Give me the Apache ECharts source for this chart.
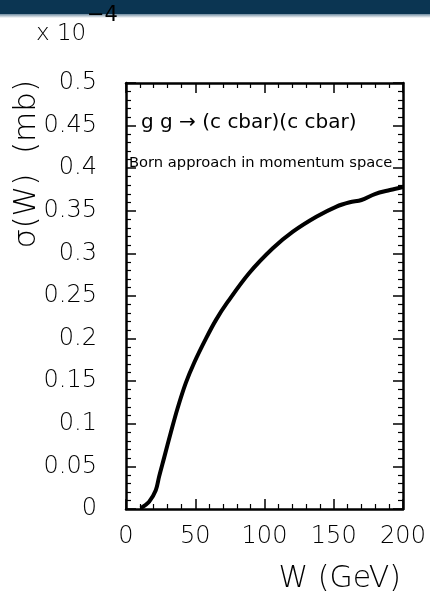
<!DOCTYPE html>
<html>
<head>
<meta charset="utf-8">
<script src="https://cdn.jsdelivr.net/npm/echarts@6/dist/echarts.min.js"></script>
<style>
  html, body { margin: 0; padding: 0; background: #fff; }
  #chart-ctn { width: 430px; height: 600px; }
</style>
</head>
<body>
<div id="chart-ctn"></div>
<script>
// W (GeV) and sigma(W) in units of 1e-4 mb
var wValues = [10.6, 16.7, 21.5, 23.9, 27.5, 32.4, 37.2, 43.2, 49.3, 57.7, 65, 73.4, 89, 106, 120.5, 137.4, 152, 161.6, 170, 179.7, 190.6, 200];
var sigmaValues = [0.001, 0.0086, 0.022, 0.038, 0.060, 0.090, 0.118, 0.148, 0.172, 0.200, 0.222, 0.243, 0.277, 0.306, 0.3255, 0.343, 0.355, 0.360, 0.3627, 0.3697, 0.3744, 0.378];

var xTicks = [0, 50, 100, 150, 200];
var yTicks = [0, 0.05, 0.1, 0.15, 0.2, 0.25, 0.3, 0.35, 0.4, 0.45, 0.5];

var curve = [];
for (var i = 0; i < wValues.length; i++) {
  curve.push([wValues[i], sigmaValues[i]]);
}

var labelFont = 'DejaVu Sans';
var lineCol = '#000';

function frameAxis(pos, show) {
  return {
    type: 'value',
    position: pos,
    axisLine: { show: true, onZero: false, lineStyle: { color: lineCol, width: 2.5 } },
    axisTick: { show: true, inside: true, length: 10, lineStyle: { color: lineCol, width: 1.5 } },
    minorTick: { show: true, splitNumber: 5, length: 5, lineStyle: { color: lineCol, width: 1.2 } },
    splitLine: { show: false },
    axisLabel: {
      show: show,
      fontFamily: labelFont,
      fontSize: 24,
      fontWeight: 'lighter',
      color: '#000'
    }
  };
}

var myChart = echarts.init(document.getElementById('chart-ctn'));

var xBottom = frameAxis('bottom', true);
xBottom.min = xTicks[0];
xBottom.max = xTicks[xTicks.length - 1];
xBottom.interval = 50;
xBottom.axisLabel.margin = 16;
var xTop = frameAxis('top', false);
xTop.min = xBottom.min; xTop.max = xBottom.max; xTop.interval = 50;

var yLeft = frameAxis('left', true);
yLeft.min = yTicks[0];
yLeft.max = yTicks[yTicks.length - 1];
yLeft.interval = 0.05;
yLeft.axisLabel.margin = 29;
var yRight = frameAxis('right', false);
yRight.min = yLeft.min; yRight.max = yLeft.max; yRight.interval = 0.05;

var option = {
  backgroundColor: '#fff',
  animation: false,
  grid: { left: 126, top: 83, width: 277, height: 426 },
  xAxis: [xBottom, xTop],
  yAxis: [yLeft, yRight],
  series: [
    {
      type: 'line',
      xAxisIndex: 0,
      yAxisIndex: 0,
      data: curve,
      smooth: 0.35,
      showSymbol: false,
      lineStyle: { color: '#000', width: 4 }
    }
  ],
  graphic: [
    {
      type: 'rect',
      z: 1,
      shape: { x: 0, y: 0, width: 430, height: 14 },
      style: { fill: '#0b3552' }
    },
    {
      type: 'rect',
      z: 1,
      shape: { x: 0, y: 14, width: 430, height: 4 },
      style: {
        fill: new echarts.graphic.LinearGradient(0, 0, 0, 1, [
          { offset: 0, color: '#6f8ba0' },
          { offset: 1, color: '#ffffff' }
        ])
      }
    },
    {
      type: 'text',
      z: 5,
      x: 36,
      y: 34,
      style: {
        text: 'x 10',
        fontFamily: labelFont,
        fontSize: 23,
        fontWeight: 'lighter',
        fill: '#000',
        align: 'left',
        verticalAlign: 'middle'
      }
    },
    {
      type: 'text',
      z: 5,
      x: 87,
      y: 16,
      style: {
        text: '\u22124',
        fontFamily: labelFont,
        fontSize: 21,
        fill: '#000',
        align: 'left',
        verticalAlign: 'middle'
      }
    },
    {
      type: 'text',
      x: 27,
      y: 80,
      rotation: Math.PI / 2,
      style: {
        text: '\u03c3(W)  (mb)',
        fontFamily: labelFont,
        fontSize: 31,
        fontWeight: 'lighter',
        fill: '#000',
        align: 'right',
        verticalAlign: 'middle'
      }
    },
    {
      type: 'text',
      x: 401,
      y: 579,
      style: {
        text: 'W (GeV)',
        fontFamily: labelFont,
        fontSize: 30,
        fontWeight: 'lighter',
        fill: '#000',
        align: 'right',
        verticalAlign: 'middle'
      }
    },
    {
      type: 'text',
      x: 141,
      y: 123,
      style: {
        text: 'g g \u2192 (c cbar)(c cbar)',
        fontFamily: labelFont,
        fontSize: 20,
        fill: '#000',
        align: 'left',
        verticalAlign: 'middle'
      }
    },
    {
      type: 'text',
      x: 129,
      y: 163,
      style: {
        text: 'Born approach in momentum space',
        fontFamily: labelFont,
        fontSize: 14.7,
        fill: '#000',
        align: 'left',
        verticalAlign: 'middle'
      }
    }
  ]
};

myChart.setOption(option);
</script>
</body>
</html>
